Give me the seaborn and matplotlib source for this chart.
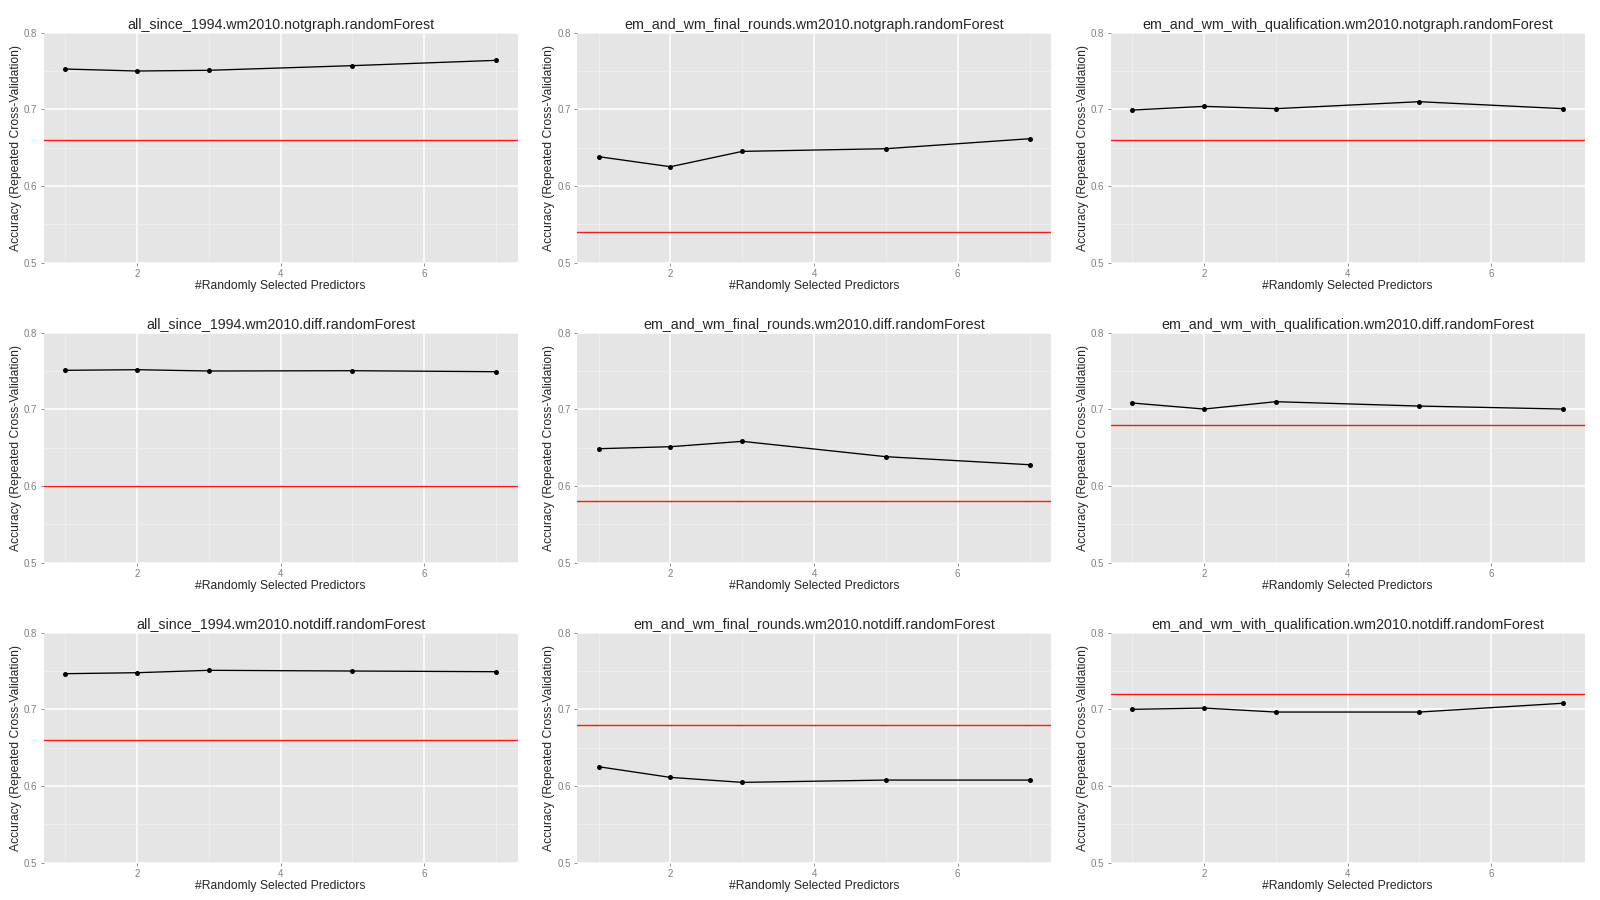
import pandas as pd
import matplotlib.pyplot as plt
import seaborn as sns
from matplotlib.ticker import MultipleLocator

# number of randomly selected predictors (mtry)
mtry = [1, 2, 3, 5, 7]

datasets = ["all_since_1994", "em_and_wm_final_rounds", "em_and_wm_with_qualification"]
variants = ["notgraph", "diff", "notdiff"]

# cross-validated accuracy
acc_all_notgraph = [0.7526, 0.7500, 0.7509, 0.7570, 0.7639]
acc_final_notgraph = [0.6383, 0.6252, 0.6452, 0.6487, 0.6617]
acc_qual_notgraph = [0.6991, 0.7039, 0.7009, 0.7100, 0.7009]

acc_all_diff = [0.7509, 0.7517, 0.7500, 0.7504, 0.7491]
acc_final_diff = [0.6487, 0.6513, 0.6583, 0.6383, 0.6278]
acc_qual_diff = [0.7083, 0.7004, 0.7100, 0.7043, 0.7004]

acc_all_notdiff = [0.7465, 0.7478, 0.7509, 0.7500, 0.7491]
acc_final_notdiff = [0.6252, 0.6113, 0.6048, 0.6078, 0.6078]
acc_qual_notdiff = [0.7000, 0.7017, 0.6965, 0.6965, 0.7080]

# red reference line per panel (same order as above)
baseline_notgraph = [0.66, 0.54, 0.66]
baseline_diff = [0.60, 0.58, 0.68]
baseline_notdiff = [0.66, 0.68, 0.72]

accuracy = {
    "notgraph": [acc_all_notgraph, acc_final_notgraph, acc_qual_notgraph],
    "diff": [acc_all_diff, acc_final_diff, acc_qual_diff],
    "notdiff": [acc_all_notdiff, acc_final_notdiff, acc_qual_notdiff],
}
baselines = {
    "notgraph": baseline_notgraph,
    "diff": baseline_diff,
    "notdiff": baseline_notdiff,
}

rows = []
for v in variants:
    for d, vals in zip(datasets, accuracy[v]):
        for m, a in zip(mtry, vals):
            rows.append({"dataset": d, "variant": v, "mtry": m, "accuracy": a})
df = pd.DataFrame(rows)

sns.set_style("darkgrid", {"axes.facecolor": "#E5E5E5", "grid.color": "white",
                           "axes.edgecolor": "#E5E5E5"})
plt.rcParams["font.family"] = ["Liberation Sans", "DejaVu Sans"]

fig, axes = plt.subplots(3, 3, figsize=(16, 9), dpi=100)
fig.subplots_adjust(left=0.0272, right=0.9904, top=0.9637, bottom=0.0414,
                    wspace=0.1255, hspace=0.304)

for i, v in enumerate(variants):
    for j, d in enumerate(datasets):
        ax = axes[i, j]
        sub = df[(df.dataset == d) & (df.variant == v)]
        ax.axhline(baselines[v][j], color="#F21A1A", lw=1.0, zorder=2)
        sns.lineplot(data=sub, x="mtry", y="accuracy", ax=ax, color="black",
                     lw=0.95, marker="o", markersize=3.6, markeredgewidth=0,
                     zorder=3)
        ax.set_xlim(0.7, 7.3)
        ax.set_ylim(0.5, 0.8)
        ax.xaxis.set_minor_locator(MultipleLocator(2, offset=1))
        ax.yaxis.set_minor_locator(MultipleLocator(0.1, offset=0.05))
        ax.set_xticks([2, 4, 6])
        ax.set_yticks([0.5, 0.6, 0.7, 0.8])
        ax.set_yticklabels(["0.5", "0.6", "0.7", "0.8"])
        ax.grid(which="major", color="white", lw=1.1)
        ax.grid(which="minor", color="#F2F2F2", lw=0.5)
        ax.set_axisbelow(True)
        for s in ax.spines.values():
            s.set_visible(False)
        ax.tick_params(which="major", length=2.5, width=0.6, color="#7F7F7F",
                       labelcolor="#7F7F7F", labelsize=7, pad=2,
                       bottom=True, left=True)
        ax.tick_params(which="minor", length=0)
        ax.set_title(f"{d}.wm2010.{v}.randomForest", fontsize=10.3, pad=3)
        ax.set_xlabel("#Randomly Selected Predictors", fontsize=8.7, labelpad=1)
        ax.set_ylabel("Accuracy (Repeated Cross-Validation)", fontsize=8.7,
                      labelpad=1.5)

fig.savefig("out.png", dpi=100, facecolor="white")
